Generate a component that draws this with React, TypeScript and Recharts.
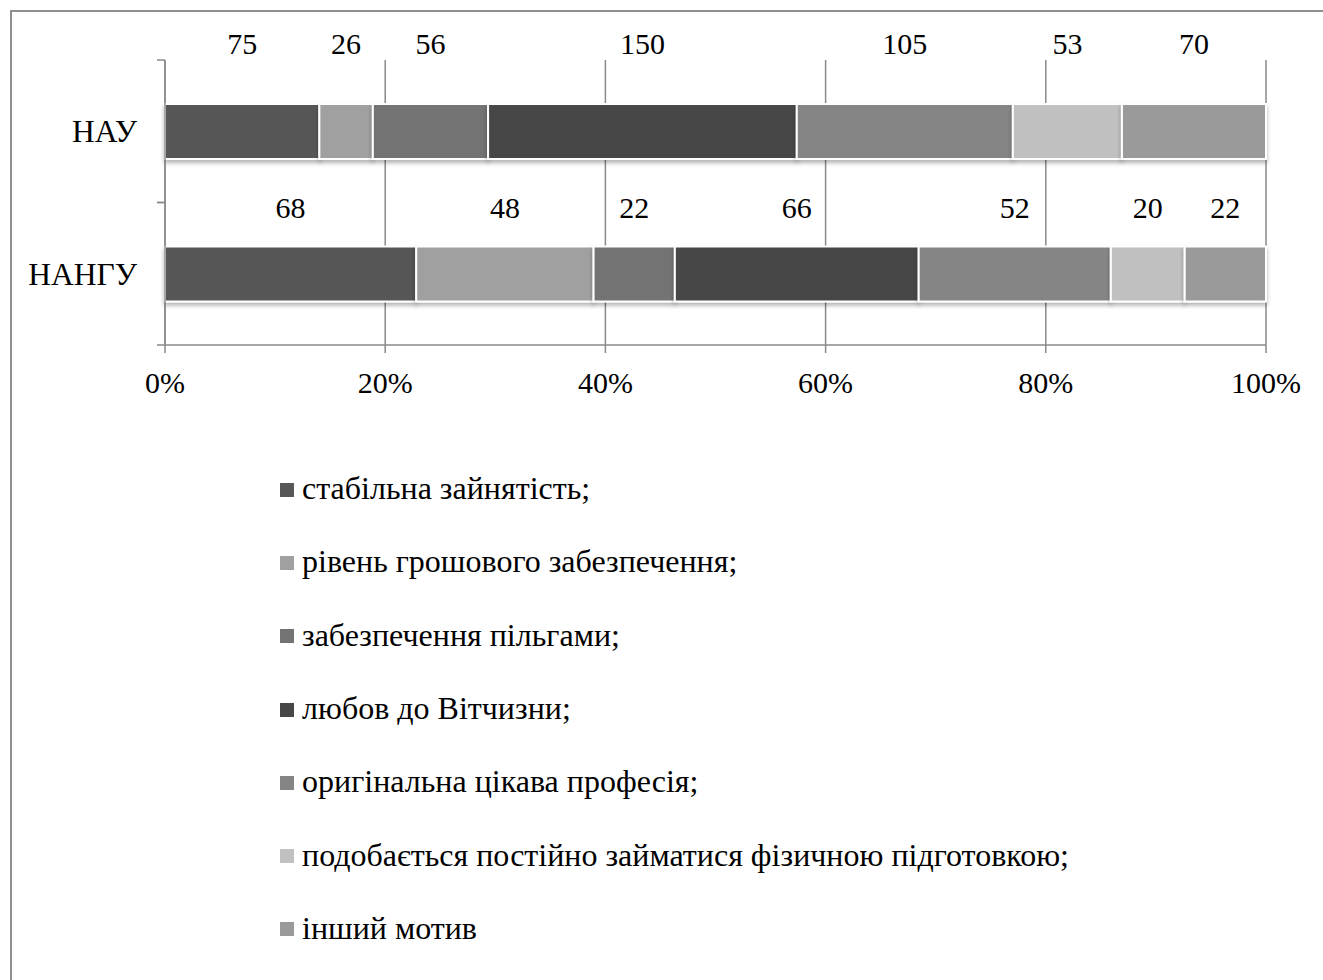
import React from "react"
import { BarChart, Bar, XAxis, YAxis, CartesianGrid, LabelList, Legend } from "recharts"

const categories = ["НАУ", "НАНГУ"]
const seriesNames = [
  "стабільна зайнятість;",
  "рівень грошового забезпечення;",
  "забезпечення пільгами;",
  "любов до Вітчизни;",
  "оригінальна цікава професія;",
  "подобається постійно займатися фізичною підготовкою;",
  "інший мотив",
]
const nauValues = [75, 26, 56, 150, 105, 53, 70]
const nanguValues = [68, 48, 22, 66, 52, 20, 22]
const xTicks = [0, 0.2, 0.4, 0.6, 0.8, 1]

const colors = ["#575757", "#a0a0a0", "#737373", "#474747", "#858585", "#c0c0c0", "#9a9a9a"]
const axisColor = "#8a8a8a"
const font = "'Liberation Serif', 'Times New Roman', serif"
const fontSize = 30

const rows = [nauValues, nanguValues]
const data = categories.map((name, i) => {
  const row: Record<string, string | number> = { name }
  rows[i].forEach((v, j) => {
    row[`s${j}`] = v
  })
  return row
})

const W = 1323
const H = 980
const plotTop = 60
const plotBottom = 345
const yAxisWidth = 165
const xAxisHeight = 60
const bandHalf = (plotBottom - plotTop) / (2 * categories.length)
// how far above the bar top each row's labels sit
const labelLift = [50, 29]

const YTick = (props: any) => {
  const { x, y, payload } = props
  return (
    <g>
      <text x={x} y={y} dy="0.35em" textAnchor="end" fill="#000" fontSize={31.5} fontFamily={font}>
        {payload.value}
      </text>
      <line x1={yAxisWidth - 8} x2={yAxisWidth} y1={y - bandHalf} y2={y - bandHalf} stroke={axisColor} strokeWidth={1.5} />
      <line x1={yAxisWidth - 8} x2={yAxisWidth} y1={y + bandHalf} y2={y + bandHalf} stroke={axisColor} strokeWidth={1.5} />
    </g>
  )
}

const makeLabel = (j: number) => (props: any) => {
  const { x, y, width, index, value } = props
  const v = index != null && rows[index] ? rows[index][j] : value
  const lift = labelLift[index] ?? 30
  return (
    <text x={x + width / 2} y={y - lift} textAnchor="middle" fill="#000" fontSize={fontSize} fontFamily={font}>
      {v}
    </text>
  )
}

const BarShape = (props: any) => {
  const { x, y, width, height, fill } = props
  return (
    <rect x={x} y={y} width={width} height={height} fill={fill} stroke="#fff" strokeWidth={2} filter="url(#barShadow)" />
  )
}

const LegendList = () => (
  <div style={{ fontFamily: font, fontSize: 32, color: "#000" }}>
    {seriesNames.map((name, j) => (
      <div key={name} style={{ display: "flex", alignItems: "center", height: 73.3, whiteSpace: "nowrap" }}>
        <span style={{ display: "inline-block", width: 14, height: 14, background: colors[j], marginRight: 8, marginTop: 2 }} />
        <span>{name}</span>
      </div>
    ))}
  </div>
)

export default function App() {
  return (
    <div style={{ position: "absolute", left: 0, top: 0, width: W, height: H, overflow: "hidden", background: "#fff" }}>
      <div
        style={{
          position: "absolute",
          left: 10,
          top: 10,
          width: 2000,
          height: 2000,
          borderLeft: "2px solid #8f8f8f",
          borderTop: "2px solid #8f8f8f",
        }}
      />
      <div style={{ position: "absolute", left: 0, top: 0 }}>
        <BarChart
          width={W}
          height={H}
          data={data}
          layout="vertical"
          stackOffset="expand"
          barSize={55}
          margin={{ top: plotTop, right: W - 1266, left: 0, bottom: H - plotBottom - xAxisHeight }}
        >
          <defs>
            <filter id="barShadow" x="-5%" y="-20%" width="110%" height="160%">
              <feDropShadow dx="0" dy="3" stdDeviation="2" floodColor="#000" floodOpacity="0.3" />
            </filter>
          </defs>
          <CartesianGrid horizontal={false} vertical stroke={axisColor} strokeWidth={1.5} />
          <XAxis
            type="number"
            domain={[0, 1]}
            ticks={xTicks}
            tickFormatter={(v: number) => `${Math.round(v * 100)}%`}
            height={xAxisHeight}
            axisLine={{ stroke: axisColor, strokeWidth: 1.5 }}
            tickLine={{ stroke: axisColor, strokeWidth: 1.5 }}
            tickSize={8}
            tickMargin={19}
            tick={{ fill: "#000", fontSize, fontFamily: font }}
            interval={0}
          />
          <YAxis
            type="category"
            dataKey="name"
            width={yAxisWidth}
            axisLine={{ stroke: axisColor, strokeWidth: 1.5 }}
            tickLine={false}
            tickSize={8}
            tickMargin={20}
            tick={<YTick />}
            interval={0}
          />
          <Legend
            layout="vertical"
            align="center"
            verticalAlign="middle"
            wrapperStyle={{ left: 280, top: 452, width: 1000 }}
            content={() => <LegendList />}
          />
          {seriesNames.map((name, j) => (
            <Bar
              key={name}
              dataKey={`s${j}`}
              name={name}
              stackId="a"
              fill={colors[j]}
              shape={<BarShape />}
              isAnimationActive={false}
            >
              <LabelList dataKey={`s${j}`} content={makeLabel(j)} />
            </Bar>
          ))}
        </BarChart>
      </div>
    </div>
  )
}
